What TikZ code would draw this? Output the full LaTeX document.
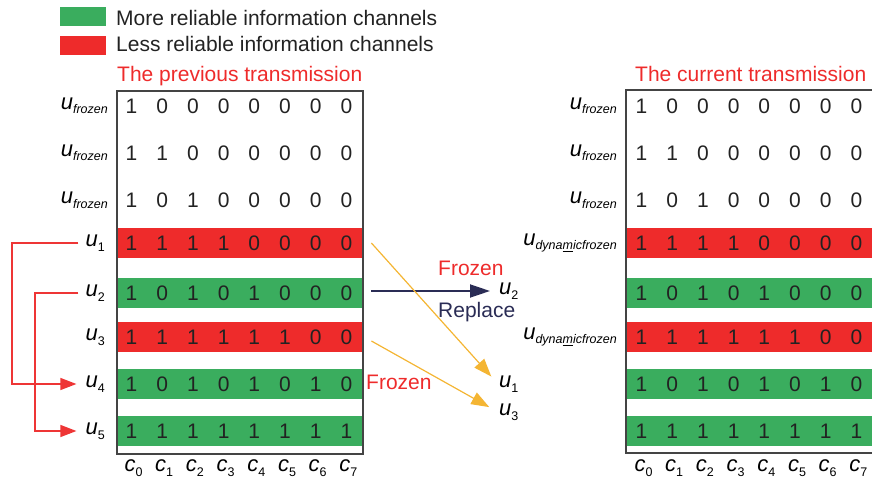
\documentclass[tikz,border=0pt]{standalone}
\usepackage{fontspec}
\setmainfont{Liberation Sans}
\usetikzlibrary{arrows.meta}

\definecolor{bandgreen}{HTML}{3AAD5E}
\definecolor{bandred}{HTML}{EE2B2B}
\definecolor{titlered}{HTML}{EE2B2B}
\definecolor{linered}{HTML}{EE3535}
\definecolor{arroworange}{HTML}{F4B533}
\definecolor{navyblue}{HTML}{2A2C55}
\definecolor{ink}{HTML}{222222}
\definecolor{framegray}{HTML}{444444}

% variable name: italic letter with a lowered subscript
\newcommand\uvar[1]{{\fontsize{22}{22}\selectfont\itshape u}\raisebox{-4.5pt}{\fontsize{12.5}{12.5}\selectfont #1}}
\newcommand\cvar[1]{{\fontsize{22}{22}\selectfont\itshape c}\raisebox{-4.5pt}{\fontsize{12.5}{12.5}\selectfont #1}}

\begin{document}
\begin{tikzpicture}[x=1pt, y=-1pt,
  font=\fontsize{21}{21}\selectfont,
  digit/.style={text=ink, inner sep=0pt},
  ulabel/.style={anchor=east, inner sep=1pt, text=black},
  clabel/.style={inner sep=0pt, text=black},
  band/.style={anchor=west, minimum height=30pt, inner sep=0pt, draw=none},
  legendbox/.style={anchor=north west, minimum width=46pt, minimum height=19pt, inner sep=0pt},
  plaintext/.style={anchor=base west, inner sep=0pt, text=ink},
  titletext/.style={anchor=base west, inner sep=0pt, text=titlered},
  framestyle/.style={draw=framegray, line width=1.4pt},
  redarrow/.style={draw=linered, line width=1.2pt, -{Triangle[length=16pt, width=12pt]}},
  orangearrow/.style={draw=arroworange, line width=1.2pt, -{Triangle[length=18pt, width=13pt]}},
  navyarrow/.style={draw=navyblue, line width=1.8pt, -{Triangle[length=20pt, width=13pt]}},
]
\useasboundingbox (0,0) rectangle (872,481);

% legend
\node[legendbox, fill=bandgreen] (lg) at (60,7) {};
\node[legendbox, fill=bandred] (lr) at (60,36) {};
\node[plaintext] (lgt) at (116,26) {More reliable information channels};
\node[plaintext] (lrt) at (116,52) {Less reliable information channels};

% titles
\node[titletext] (tprev) at (117,82) {The previous transmission};
\node[titletext] (tcur) at (635,82) {The current transmission};

% coloured bands behind the information rows
\foreach \side/\x/\w in {L/117/246, R/626/246} {
  \foreach \row/\y/\col in {4/243/bandred, 5/293/bandgreen, 6/337/bandred, 7/384/bandgreen, 8/431/bandgreen} {
    \node[band, fill=\col, minimum width=\w pt] (\side b\row) at (\x,\y) {};
  }
}

% frames
\draw[framestyle] (117,91) rectangle (363,454);
\draw[framestyle] (872,90) -- (626,90) -- (626,453) -- (872,453);

% generator matrix entries
\foreach \side/\x in {L/131.5, R/641.5} {
  \foreach \row/\y/\bits in {
      1/106/{1,0,0,0,0,0,0,0},
      2/153/{1,1,0,0,0,0,0,0},
      3/200/{1,0,1,0,0,0,0,0},
      4/243/{1,1,1,1,0,0,0,0},
      5/293/{1,0,1,0,1,0,0,0},
      6/337/{1,1,1,1,1,1,0,0},
      7/384/{1,0,1,0,1,0,1,0},
      8/431/{1,1,1,1,1,1,1,1}} {
    \foreach \b [count=\i from 0] in \bits {
      \node[digit] (\side-\row-\i) at (\x+30.7*\i, \y) {\b};
    }
  }
  \foreach \i in {0,...,7} {
    \node[clabel] (\side c\i) at (\x+2+30.7*\i, 468) {\cvar{\i}};
  }
}

% row labels, previous transmission
\node[ulabel] (lf1) at (109,106) {\uvar{\itshape frozen}};
\node[ulabel] (lf2) at (109,153) {\uvar{\itshape frozen}};
\node[ulabel] (lf3) at (109,200) {\uvar{\itshape frozen}};
\node[ulabel] (lu1) at (106,243) {\uvar{1}};
\node[ulabel] (lu2) at (106,293) {\uvar{2}};
\node[ulabel] (lu3) at (106,337) {\uvar{3}};
\node[ulabel] (lu4) at (106,384) {\uvar{4}};
\node[ulabel] (lu5) at (106,431) {\uvar{5}};

% row labels, current transmission
\node[ulabel] (rf1) at (618,106) {\uvar{\itshape frozen}};
\node[ulabel] (rf2) at (618,153) {\uvar{\itshape frozen}};
\node[ulabel] (rf3) at (618,200) {\uvar{\itshape frozen}};
\node[ulabel] (rd4) at (618,243) {\uvar{\itshape dyna\underline{m}icfrozen}};
\node[ulabel] (rd6) at (618,337) {\uvar{\itshape dyna\underline{m}icfrozen}};

% reordering of the information bits
\coordinate (railA) at (12,0);
\coordinate (railB) at (35,0);
\draw[redarrow, shorten <=6pt, shorten >=8pt] (lu1.west) -- (lu1.west -| railA) |- (lu4.west);
\draw[redarrow, shorten <=6pt, shorten >=8pt] (lu2.west) -- (lu2.west -| railB) |- (lu5.west);

% bits carried over to the current transmission
\node[anchor=west, inner sep=1pt] (mu2) at (498,291) {\uvar{2}};
\node[anchor=west, inner sep=1pt] (mu1) at (498,384) {\uvar{1}};
\node[anchor=west, inner sep=1pt] (mu3) at (498,412) {\uvar{3}};

\draw[navyarrow, shorten >=8pt] ([shift={(8,-2)}]Lb5.east) -- (mu2.west);
\draw[orangearrow, shorten >=10pt] ([xshift=8pt]Lb4.east) -- (mu1.west);
\draw[orangearrow, shorten >=10pt] ([shift={(8,4)}]Lb6.east) -- (mu3.west);

\node[titletext] (fz1) at (438,275) {Frozen};
\node[anchor=base west, inner sep=0pt, text=navyblue] (rep) at (438,317) {Replace};
\node[titletext] (fz2) at (366,389) {Frozen};
\end{tikzpicture}
\end{document}
